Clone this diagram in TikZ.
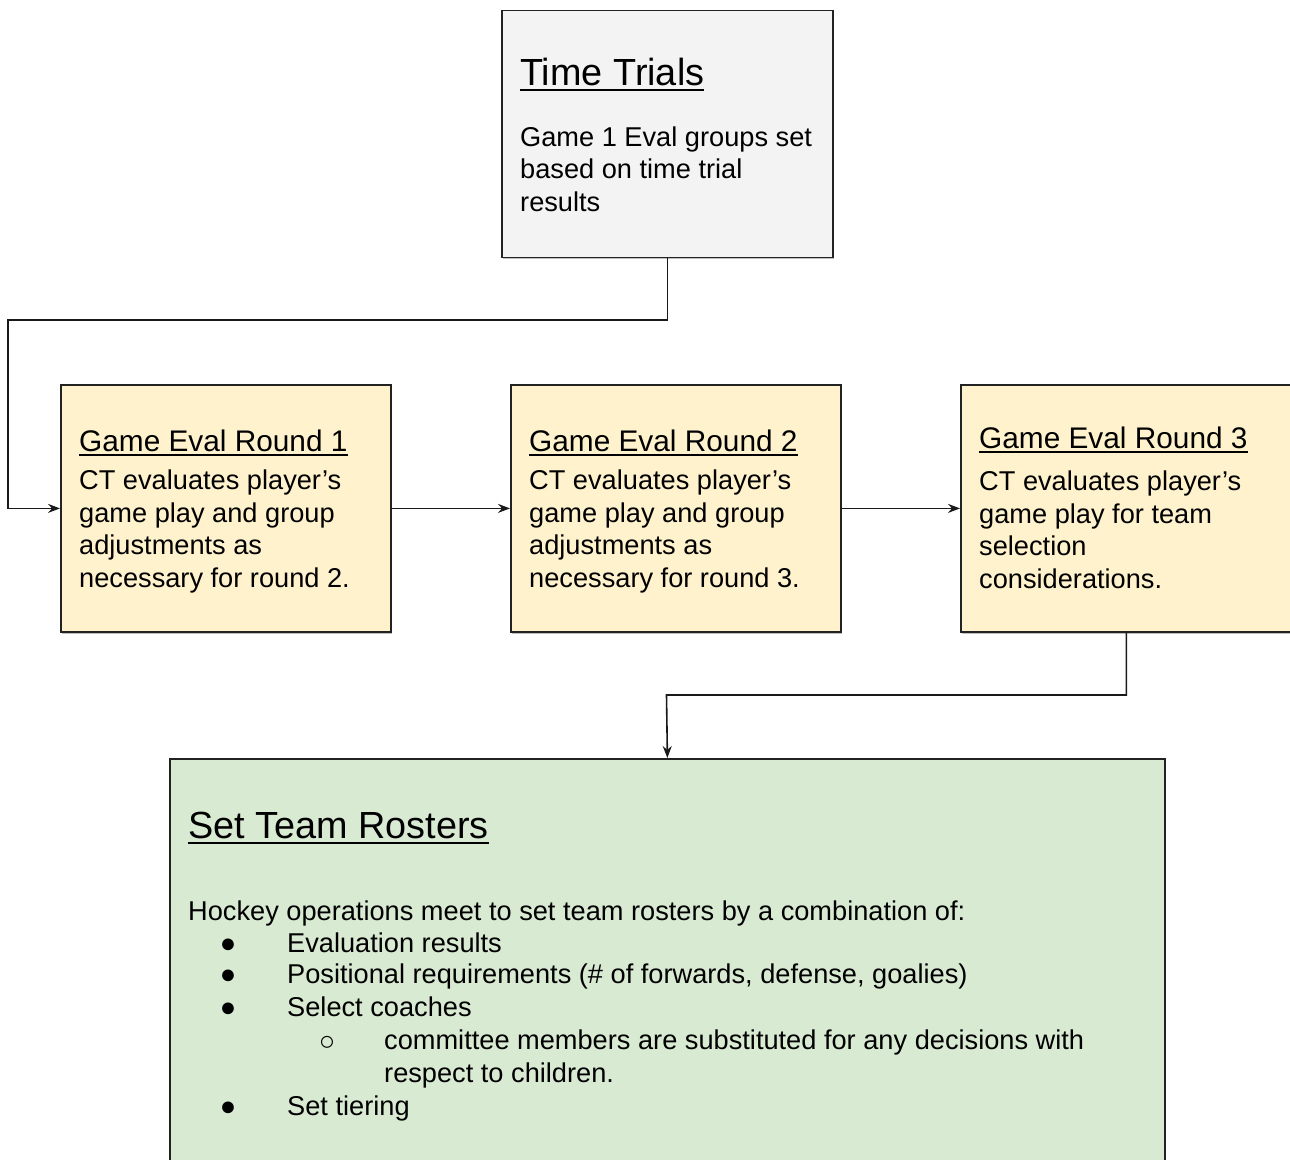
\documentclass[tikz,border=0pt]{standalone}
\usepackage{fontspec}
\setmainfont{Liberation Sans}
\usetikzlibrary{arrows.meta,shadows}
\definecolor{ttfill}{HTML}{F3F3F3}
\definecolor{rfill}{HTML}{FFF2CC}
\definecolor{gfill}{HTML}{D9EAD3}
\definecolor{edgec}{HTML}{222222}
\newcommand\BDfont{\fontsize{27.2}{32.4}\selectfont}
\newcommand\TTfont{\fontsize{37.8}{44}\selectfont}
\newcommand\RTfont{\fontsize{29.8}{35}\selectfont}
\newsavebox\ulbox
\newcommand\ttl[1]{\sbox\ulbox{#1}\rlap{\rule[-.16em]{\wd\ulbox}{1.8pt}}\usebox\ulbox}
\begin{document}
\begin{tikzpicture}[x=1pt,y=-1pt,
  panel/.style={draw=edgec, line width=1.8pt, anchor=north west, inner sep=0pt,
    drop shadow={shadow xshift=1pt, shadow yshift=-2pt, fill=black, opacity=0.25}},
  txt/.style={anchor=base west, inner sep=0pt, align=left, font=\BDfont},
  bul/.style={anchor=base, inner sep=0pt, font=\BDfont},
  conn/.style={draw=black!90, line width=1.6pt, -{Stealth[length=12pt,width=9pt,inset=4pt]}}]
\useasboundingbox (0,0) rectangle (1290,1159);
% boxes
\node[panel, fill=ttfill, minimum width=331pt, minimum height=247pt] (tt) at (501,9.5) {};
\node[panel, fill=rfill, minimum width=330pt, minimum height=247pt] (r1) at (60,384) {};
\node[panel, fill=rfill, minimum width=330pt, minimum height=247pt] (r2) at (510,384) {};
\node[panel, fill=rfill, minimum width=331pt, minimum height=247pt] (r3) at (960,384) {};
\node[panel, fill=gfill, minimum width=995pt, minimum height=440pt] (ros) at (169,758) {};
% texts (multi-line nodes are anchored at the baseline of their last line)
\node[txt, font=\TTfont] (ttT) at (520,85) {\ttl{Time Trials}};
\node[txt] (ttB) at (520,211) {Game 1 Eval groups set\\based on time trial\\results};
\node[txt, font=\RTfont] (r1T) at (79,451) {\ttl{Game Eval Round 1}};
\node[txt] (r1B) at (79,587) {CT evaluates player’s\\game play and group\\adjustments as\\necessary for round 2.};
\node[txt, font=\RTfont] (r2T) at (529,451) {\ttl{Game Eval Round 2}};
\node[txt] (r2B) at (529,587) {CT evaluates player’s\\game play and group\\adjustments as\\necessary for round 3.};
\node[txt, font=\RTfont] (r3T) at (979,448) {\ttl{Game Eval Round 3}};
\node[txt] (r3B) at (979,588) {CT evaluates player’s\\game play for team\\selection\\considerations.};
\node[txt, font=\TTfont] (rosT) at (188,838) {\ttl{Set Team Rosters}};
\node[txt] (rosI) at (188,920) {Hockey operations meet to set team rosters by a combination of:};
\node[bul] (b1) at (228,952) {●};
\node[txt] (i1) at (287,952) {Evaluation results};
\node[bul] (b2) at (228,983.5) {●};
\node[txt] (i2) at (287,983.5) {Positional requirements (\# of forwards, defense, goalies)};
\node[bul] (b3) at (228,1016) {●};
\node[txt] (i3) at (287,1016) {Select coaches};
\node[bul] (b4) at (327,1050) {○};
\node[txt] (i4) at (384,1082) {committee members are substituted for any decisions with\\respect to children.};
\node[bul] (b5) at (228,1115) {●};
\node[txt] (i5) at (287,1115) {Set tiering};
% connectors
\coordinate (c1) at (8,320);
\coordinate (c2) at (666.5,695);
\draw[conn] (tt.south) |- (c1) |- (r1.west);
\draw[conn] (r1.east) -- (r2.west);
\draw[conn] (r2.east) -- (r3.west);
\draw[conn] (r3.south) |- (c2) -- (ros.north);
\end{tikzpicture}
\end{document}
